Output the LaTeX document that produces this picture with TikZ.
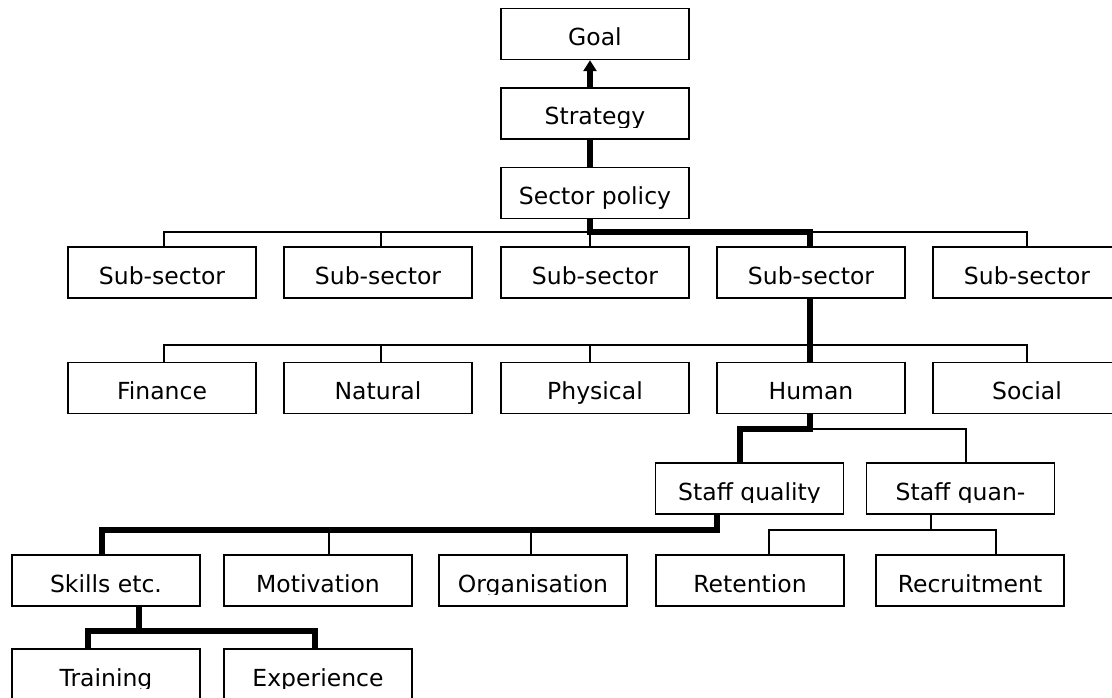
\documentclass[tikz,border=0pt]{standalone}
\usepackage{fontspec}
\setmainfont{DejaVu Sans}
\usetikzlibrary{arrows.meta}

\tikzset{
  box/.style={draw, line width=1.4pt, rectangle, minimum width=188pt, minimum height=51pt,
    inner sep=0pt, text height=23pt, text depth=0pt,
    font=\fontsize{23.5pt}{27pt}\selectfont},
  ln/.style={line width=1.5pt},
  tk/.style={line width=5.2pt},
  lbl/.style={anchor=base, inner sep=0pt, font=\fontsize{23.5pt}{27pt}\selectfont}
}

% label whose descenders are cut off by the text frame
\newcommand\cutlabel[2]{%
  \begin{scope}
    \clip ([yshift=-14pt]#1.west) rectangle (#1.north east);
    \node[lbl] (#1-t) at ([yshift=-11.5pt]#1.center) {#2};
  \end{scope}}

\begin{document}
\begin{tikzpicture}[x=1pt, y=-1pt]
\useasboundingbox (0,0) rectangle (1112,698);

% top of the chain
\node[box] (goal) at (595,34)    {Goal};
\node[box] (st)   at (595,113.5) {};
\node[box] (sp)   at (595,193)   {Sector policy};
\cutlabel{st}{Strategy}

% sub-sectors
\node[box] (s1) at (162,272.5) {Sub-sector};
\node[box] (s2) at (378,272.5) {Sub-sector};
\node[box] (s3) at (595,272.5) {Sub-sector};
\node[box] (s4) at (811,272.5) {Sub-sector};
\node[box] (s5) at (1027,272.5) {Sub-sector};

% capitals
\node[box] (fi) at (162,388) {Finance};
\node[box] (na) at (378,388) {Natural};
\node[box] (ph) at (595,388) {Physical};
\node[box] (hu) at (811,388) {Human};
\node[box] (so) at (1027,388) {Social};

% staff
\node[box] (sq) at (749.5,488.5) {};
\node[box] (sn) at (960.5,488.5) {};
\cutlabel{sq}{Staff quality}
\cutlabel{sn}{Staff quan-}

% staff quality and quantity factors
\node[box] (sk)  at (106,580.5) {Skills etc.};
\node[box] (mo)  at (318,580.5) {Motivation};
\node[box] (org) at (533,580.5) {};
\node[box] (ret) at (750,580.5) {Retention};
\node[box] (rec) at (970,580.5) {Recruitment};
\cutlabel{org}{Organisation}

% skills
\node[box] (tr) at (106,674.5) {};
\node[box] (ex) at (318,674.5) {};
\cutlabel{tr}{Training}
\cutlabel{ex}{Experience}

% bus levels
\coordinate (b1) at (590,232);
\coordinate (b2) at (810,345);
\coordinate (b3) at (810,429);
\coordinate (b4) at (717,530);
\coordinate (b5) at (931,530);
\coordinate (b6) at (139,631);

% thin connectors
\draw[ln] (s1.north -| 164,0) -- (b1 -| 164,0) -- (b1 -| 1027,0) -- (s5.north -| 1027,0);
\draw[ln] (b1 -| 381,0) -- (s2.north -| 381,0);
\draw[ln] (b1) -- (s3.north -| 590,0);

\draw[ln] (fi.north -| 164,0) -- (b2 -| 164,0) -- (b2 -| 1027,0) -- (so.north -| 1027,0);
\draw[ln] (b2 -| 381,0) -- (na.north -| 381,0);
\draw[ln] (b2 -| 590,0) -- (ph.north -| 590,0);

\draw[ln] (b3) -- (b3 -| 966,0) -- (sn.north -| 966,0);

\draw[ln] (b4 -| 329,0) -- (mo.north -| 329,0);
\draw[ln] (b4 -| 531,0) -- (org.north -| 531,0);

\draw[ln] (sn.south -| 931,0) -- (b5);
\draw[ln] (ret.north -| 769,0) -- (b5 -| 769,0) -- (b5 -| 996,0) -- (rec.north -| 996,0);

% thick path of the chain
\draw[tk, -{Triangle[length=11pt,width=13pt]}] (st.north -| 590,0) -- (goal.south -| 590,0);
\draw[tk] (sp.north -| 590,0) -- (st.south -| 590,0);
\draw[tk] (sp.south -| 590,0) -- (b1) -- (b1 -| 810,0) -- (s4.north -| 810,0);
\draw[tk] (s4.south -| 810,0) -- (hu.north -| 810,0);
\draw[tk] (hu.south -| 810,0) -- (b3) -- (b3 -| 740,0) -- (sq.north -| 740,0);
\draw[tk] (sq.south -| 717,0) -- (b4) -- (b4 -| 102,0) -- (sk.north -| 102,0);
\draw[tk] (sk.south -| 139,0) -- (b6);
\draw[tk] (tr.north -| 88,0) -- (b6 -| 88,0) -- (b6 -| 315,0) -- (ex.north -| 315,0);
\end{tikzpicture}
\end{document}
